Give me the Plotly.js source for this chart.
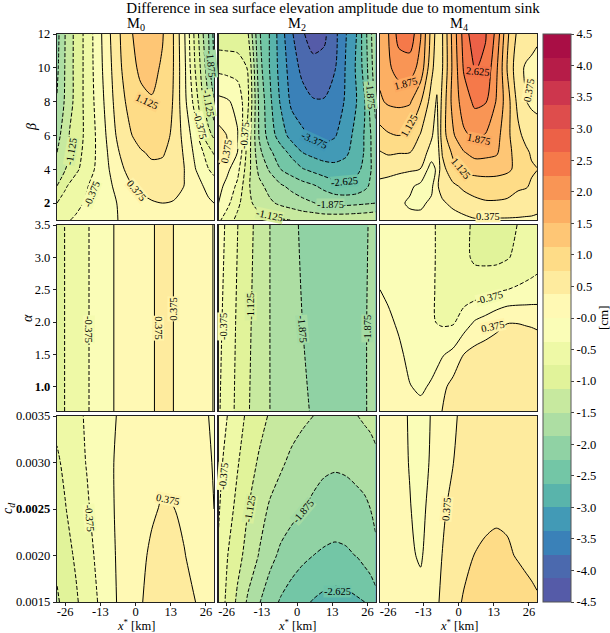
<!DOCTYPE html>
<html><head><meta charset="utf-8">
<script src="https://cdn.plot.ly/plotly-3.0.1.min.js"></script>
<style>html,body{margin:0;padding:0;background:#fff}</style></head>
<body><div id="chart" style="width:610px;height:633px"></div>
<script>
const xCols=[-29,-26,-22,-18,-14,-10,-6,-2,2,6,10,14,18,22,25,27,29];
const xColsM4Beta=[-29,-26,-22,-18,-14,-10,-8,-6,-2,2,6,10,14,18,22,25,27,29];
const betaRows=[1,2,3,4,5,6,8,10,12];
const alphaRows2=[0.625,3.5];
const alphaRows3=[0.625,2,3.5];
const alphaRows7=[0.625,1,1.5,2,2.5,3,3.5];
const cdRows=[0.0015,0.002,0.0025,0.003,0.0035];

const m0Beta=[
[-.47,-.42,-.33,-.24,-.16,-.07,.01,.07,.12,.17,.2,.22,.2,.17,.14,.12,.1],
[-.75,-.6,-.46,-.33,-.22,-.1,.03,.15,.25,.34,.375,.35,.27,.18,.1,.05,0],
[-1.12,-.8,-.55,-.4,-.21,-.07,.12,.33,.46,.55,.58,.52,.37,.13,0,-.1,-.22],
[-1.38,-1.14,-.83,-.55,-.3,-.02,.27,.5,.62,.68,.68,.6,.38,.02,-.22,-.37,-.47],
[-1.5,-1.28,-.93,-.6,-.32,.03,.375,.6,.72,.8,.78,.65,.33,-.08,-.375,-.6,-.8],
[-1.7,-1.2,-1,-.63,-.31,.09,.5,.72,.88,.95,.9,.68,.25,-.18,-.75,-1,-1.2],
[-1.85,-1.45,-1,-.62,-.25,.18,.62,.85,1.03,1.1,1,.73,.12,-.52,-1.125,-1.48,-1.875],
[-1.95,-1.48,-1,-.62,-.2,.25,.68,1,1.2,1.22,1.08,.75,.1,-.75,-1.33,-1.75,-2.25],
[-2,-1.5,-1,-.62,-.18,.3,.72,1.07,1.3,1.32,1.15,.75,.05,-.85,-1.5,-1.875,-2.35]];

const m2Beta=[
[-.3,-.55,-.85,-.95,-1,-1.05,-1.09,-1.13,-1.2,-1.22,-1.25,-1.25,-1.24,-1.22,-1.2,-1.18,-1.15],
[0,-.25,-.65,-1.05,-1.25,-1.44,-1.57,-1.67,-1.77,-1.86,-1.95,-1.98,-1.98,-1.95,-1.92,-1.9,-1.875],
[.12,-.1,-.45,-1.08,-1.4,-1.63,-1.82,-1.97,-2.1,-2.2,-2.35,-2.5,-2.55,-2.5,-2.35,-2.2,-2],
[.3,.1,-.25,-1,-1.6,-1.93,-2.25,-2.43,-2.6,-2.72,-2.82,-2.85,-2.82,-2.7,-2.55,-2.3,-2.05],
[.58,.35,0,-.95,-1.78,-2.18,-2.48,-2.72,-3,-3.12,-3.2,-3.22,-3.08,-2.8,-2.6,-2.3,-2],
[.5,.375,.03,-.9,-1.9,-2.45,-2.8,-3.15,-3.3,-3.42,-3.5,-3.4,-3.2,-2.85,-2.6,-2.3,-1.95],
[.1,.05,-.1,-.72,-1.95,-2.55,-3.05,-3.45,-3.6,-3.72,-3.72,-3.5,-3.35,-3,-2.65,-2.15,-1.8],
[-.47,-.5,-.55,-.78,-2.1,-2.65,-3.15,-3.55,-3.85,-4,-4,-3.78,-3.35,-2.95,-2.47,-2.05,-1.65],
[-1,-1,-1,-1.125,-2.2,-2.65,-3.2,-3.7,-4.08,-4.3,-4.2,-3.85,-3.4,-3,-2.4,-2,-1.55]];

const m4Beta=[
[.1,.1,.1,.1,.12,.15,.17,.2,.24,.28,.34,.33,.33,.33,.33,.33,.33,.32],
[.18,.14,.06,-.05,-.08,.08,.3,.33,.45,.58,.68,.72,.72,.7,.62,.55,.52,.48],
[.28,.25,.17,.07,-.1,-.1,.33,.5,.68,.82,.87,.9,.9,.88,.8,.78,.7,.62],
[.5,.48,.45,.42,.37,-.2,.08,.62,1,1.2,1.28,1.3,1.28,1.2,1.02,.85,.8,.76],
[.73,.8,.77,.76,.55,.25,.12,.78,1.2,1.48,1.63,1.6,1.55,1.25,.95,.82,.7,.65],
[.98,1.08,1.13,1,.72,.42,.2,.95,1.45,1.82,1.93,1.85,1.65,1.22,.85,.62,.52,.47],
[1.45,1.55,1.58,1.55,1.15,.6,.33,.85,1.65,2.05,2.33,2.28,1.85,1.3,.63,.38,.33,.32],
[1.6,1.8,2.05,2.05,1.75,.85,.55,.72,1.6,2.3,2.65,2.55,1.95,1.1,.48,.33,.3,.3],
[1.65,1.85,2.4,2.5,1.9,1,.6,.72,1.65,2.4,2.9,2.65,2.15,1.2,.65,.58,.5,.42]];

const m0Alpha=[
[-.9,-.74,-.54,-.41,-.24,-.08,.08,.21,.3,.36,.42,.375,.27,.15,.07,.04,-.01],
[-.9,-.74,-.54,-.41,-.24,-.08,.08,.21,.3,.36,.42,.375,.27,.15,.07,.04,-.01]];

const m2Alpha=[
[-.33,-.57,-.83,-1.1,-1.33,-1.5,-1.62,-1.73,-1.83,-1.9,-1.97,-2,-2,-1.95,-1.89,-1.85,-1.8],
[-.28,-.5,-.8,-1.06,-1.3,-1.5,-1.63,-1.77,-1.875,-1.95,-2,-2.03,-2.01,-1.95,-1.89,-1.85,-1.8],
[-.2,-.43,-.74,-1,-1.27,-1.5,-1.65,-1.8,-1.92,-1.98,-2.03,-2.05,-2.03,-1.97,-1.9,-1.86,-1.8]];

const m4Alpha=[
[.18,.16,.12,.08,.07,.16,.38,.5,.58,.62,.65,.68,.7,.7,.7,.7,.7],
[.2,.17,.1,.01,-.04,.03,.28,.5,.55,.6,.62,.65,.67,.68,.68,.67,.66],
[.17,.13,.05,-.07,-.13,-.1,-.03,.1,.38,.5,.57,.62,.65,.65,.63,.6,.58],
[.11,.05,-.04,-.13,-.23,-.34,-.43,-.42,-.2,.03,.13,.25,.36,.36,.34,.33,.31],
[0,-.05,-.11,-.17,-.26,-.35,-.43,-.5,-.58,-.58,-.5,-.42,-.375,-.33,-.3,-.28,-.26],
[-.08,-.12,-.16,-.21,-.28,-.35,-.42,-.52,-.68,-.8,-.84,-.85,-.78,-.66,-.58,-.54,-.5],
[-.1,-.13,-.17,-.22,-.29,-.35,-.42,-.52,-.68,-.8,-.85,-.87,-.85,-.74,-.68,-.65,-.62]];

const m0Cd=[
[-1.18,-1,-.8,-.57,-.375,-.15,.05,.22,.36,.45,.5,.5,.46,.38,.3,.25,.2],
[-1.03,-.88,-.7,-.5,-.31,-.11,.06,.2,.32,.42,.47,.45,.39,.27,.18,.13,.08],
[-.93,-.77,-.58,-.42,-.25,-.08,.07,.17,.26,.34,.4,.38,.31,.2,.12,.06,0],
[-.8,-.68,-.5,-.36,-.2,-.06,.06,.15,.22,.26,.31,.32,.28,.18,.1,.03,-.02],
[-.66,-.6,-.47,-.33,-.22,-.08,.03,.11,.17,.21,.25,.27,.25,.18,.08,0,-.08]];

const m2Cd=[
[-.55,-.8,-1.2,-1.57,-1.85,-2.1,-2.29,-2.43,-2.55,-2.65,-2.73,-2.78,-2.75,-2.68,-2.625,-2.55,-2.4],
[-.42,-.72,-1,-1.27,-1.52,-1.76,-1.95,-2.07,-2.17,-2.25,-2.3,-2.32,-2.3,-2.24,-2.13,-2.05,-1.97],
[-.34,-.58,-.85,-1.125,-1.35,-1.55,-1.67,-1.77,-1.86,-1.95,-2.03,-2.08,-2.06,-2,-1.95,-1.88,-1.78],
[-.28,-.47,-.72,-.97,-1.17,-1.32,-1.45,-1.57,-1.67,-1.74,-1.8,-1.82,-1.8,-1.75,-1.7,-1.65,-1.6],
[-.18,-.36,-.6,-.83,-1,-1.16,-1.27,-1.36,-1.43,-1.5,-1.53,-1.55,-1.54,-1.51,-1.45,-1.42,-1.35]];

const m4Cd=[
[.3,.28,.22,.15,.12,.27,.42,.58,.8,.9,1,1.03,1,.95,.88,.85,.8],
[.25,.22,.15,.05,-.04,.17,.38,.52,.62,.76,.82,.85,.8,.72,.67,.63,.6],
[.2,.17,.1,.01,-.07,.08,.32,.47,.55,.6,.65,.68,.68,.65,.6,.57,.54],
[.16,.13,.07,-.01,-.1,.03,.22,.37,.47,.53,.57,.6,.6,.58,.55,.52,.5],
[.14,.12,.07,-.02,-.08,.01,.2,.34,.43,.5,.53,.55,.55,.53,.5,.47,.45]];

const xTickVals=[-26,-13,0,13,26];
const xTickText=['-26','-13','0','13','26'];
const betaTickVals=[2,4,6,8,10,12];
const betaTickText=['<b>2</b>','4','6','8','10','12'];
const alphaTickVals=[1,1.5,2,2.5,3,3.5];
const alphaTickText=['<b>1.0</b>','1.5','2.0','2.5','3.0','3.5'];
const cdTickVals=[.0015,.002,.0025,.003,.0035];
const cdTickText=['0.0015','0.0020','<b>0.0025</b>','0.0030','0.0035'];
const barTickVals=[-4.5,-4,-3.5,-3,-2.5,-2,-1.5,-1,-.5,0,.5,1,1.5,2,2.5,3,3.5,4,4.5];
const barTickText=['-4.5','-4.0','-3.5','-3.0','-2.5','-2.0','-1.5','-1.0','-0.5','-0.0','0.5','1.0','1.5','2.0','2.5','3.0','3.5','4.0','4.5'];

// contour labels for each panel: text, x, y, angle
const labels=[
 [['-1.125',-23.7,5.04,-80],['-0.375',-16.3,2.53,-68],['0.375',.4,2.77,50],['1.125',4.1,8,25],['-0.375',23.9,6.6,75],['-1.125',27,7.9,80],['-1.875',27.9,10.26,85]],
 [['0.375',-26,5.04,-80],['-0.375',-19.4,6,-85],['-3.375',6.6,5.73,25],['-2.625',17.7,3.26,-5],['-1.875',12.2,1.92,0],['-1.125',-10,1.29,12],['-1.875',27,8.4,85]],
 [['1.875',-19.4,9.08,-15],['2.625',7.1,9.77,5],['1.125',-18.2,6.6,-60],['1.875',7.7,5.77,12],['1.125',.9,4.05,50],['0.375',26.2,8.7,-80],['0.375',10.8,1.2,0]],
 [['-0.375',-17.1,1.89,90],['0.375',8.2,1.91,90],['0.375',14,2.21,-90]],
 [['-0.375',-27.2,1.93,-90],['-1.125',-17,2.25,-90],['-1.875',2.1,1.89,85],['-1.875',26,1.9,-90]],
 [['-0.375',11.6,2.38,-15],['0.375',12.7,1.93,-12]],
 [['-0.375',-16.9,.0024,85],['0.375',11.9,.0026,12]],
 [['-0.375',-27.2,.00285,-85],['-1.125',-17.6,.0025,-80],['-1.875',2.3,.00247,-50],['-2.625',14.9,.00161,0]],
 [['0.375',-4.6,.0025,-85]]
];

const panels=[
 {x:xCols,y:betaRows,z:m0Beta,c:0,r:0,title:'M<sub>0</sub>'},
 {x:xCols,y:betaRows,z:m2Beta,c:1,r:0,title:'M<sub>2</sub>'},
 {x:xColsM4Beta,y:betaRows,z:m4Beta,c:2,r:0,title:'M<sub>4</sub>'},
 {x:xCols,y:alphaRows2,z:m0Alpha,c:0,r:1},
 {x:xCols,y:alphaRows3,z:m2Alpha,c:1,r:1},
 {x:xCols,y:alphaRows7,z:m4Alpha,c:2,r:1},
 {x:xCols,y:cdRows,z:m0Cd,c:0,r:2},
 {x:xCols,y:cdRows,z:m2Cd,c:1,r:2},
 {x:xCols,y:cdRows,z:m4Cd,c:2,r:2}
];

const W=610,H=633;
const colPx=[[57,214],[218.5,375.5],[380,537]];
const rowPx=[[34,220],[225,411],[416,602]];
const yRanges=[[1,12],[.625,3.5],[.0015,.0035]];
const yTicks=[[betaTickVals,betaTickText],[alphaTickVals,alphaTickText],[cdTickVals,cdTickText]];
const yTitles=['<i>β</i>','<i>α</i>','<i>c<sub>d</sub></i>'];
const yTitleX=[31,27,8];

const serif='"Liberation Serif","Times New Roman",serif';
const step=.375,zLo=-4.5,zHi=4.5;

// Spectral_r anchors
const anchors=['#5e4fa2','#3288bd','#66c2a5','#abdda4','#e6f598','#ffffbf','#fee08b','#fdae61','#f46d43','#d53e4f','#9e0142'];
const h2r=h=>[1,3,5].map(i=>parseInt(h.substr(i,2),16));
function bandRgb(k){
  const t=(k+.5)/24*10,i=Math.min(9,Math.floor(t)),f=t-i;
  const a=h2r(anchors[i]),b=h2r(anchors[i+1]);
  return a.map((v,j)=>Math.round(v+(b[j]-v)*f));
}
const bandColor=k=>'rgb('+bandRgb(k).join(',')+')';
const scale=[[0,bandColor(0)]];
for(let k=0;k<24;k++)scale.push([(k+1)/25,bandColor(k)]);
scale.push([1,bandColor(23)]);
// label background: the mean of the two bands either side of the labelled level
function labelBg(v){
  const k=Math.round((v-zLo)/step);
  const a=bandRgb(k-1),b=bandRgb(k);
  return 'rgb('+a.map((c,j)=>Math.round((c+b[j])/2)).join(',')+')';
}

const data=[],annotations=[];
const layout={
 width:W,height:H,margin:{l:0,r:0,t:0,b:0},paper_bgcolor:'#fff',plot_bgcolor:'#fff',showlegend:false,
 font:{family:serif,size:12,color:'#000'},
 title:{text:'Difference in sea surface elevation amplitude due to momentum sink',
  font:{family:serif,size:15,color:'#000'},x:333/W,xref:'paper',xanchor:'center',y:1-8/H,yref:'paper',yanchor:'middle'},
 annotations
};

panels.forEach((p,i)=>{
 const id=i===0?'':String(i+1),xa='x'+id,ya='y'+id;
 const [x0,x1]=colPx[p.c],[y0,y1]=rowPx[p.r];
 const last=p.r===2,first=p.c===0;
 layout['xaxis'+id]={domain:[x0/W,x1/W],range:[-29,29],anchor:ya,tickmode:'array',
  tickvals:last?xTickVals:[],ticktext:last?xTickText:[],ticks:last?'outside':'',ticklen:3,tickwidth:1,tickcolor:'#222',ticklabelstandoff:last?-5:0,
  tickfont:{family:serif,size:12.5},showgrid:false,zeroline:false,showline:true,mirror:true,linecolor:'#222',linewidth:1.2,automargin:false};
 layout['yaxis'+id]={domain:[1-y1/H,1-y0/H],range:yRanges[p.r],anchor:xa,tickmode:'array',
  tickvals:first?yTicks[p.r][0]:[],ticktext:first?yTicks[p.r][1]:[],ticks:first?'outside':'',ticklen:3,tickwidth:1,tickcolor:'#222',
  tickfont:{family:serif,size:12.5},showgrid:false,zeroline:false,showline:true,mirror:true,linecolor:'#222',linewidth:1.2,automargin:false};
 data.push({type:'contour',x:p.x,y:p.y,z:p.z,xaxis:xa,yaxis:ya,zmin:zLo,zmax:zHi,autocontour:false,
  contours:{coloring:'fill',start:zLo,end:zHi,size:step,showlines:false},line:{width:0,smoothing:.8},colorscale:scale,
  showscale:i===0,hoverinfo:'skip',
  colorbar:{x:543/W,xanchor:'left',xpad:0,y:1-34/H,yanchor:'top',ypad:0,len:568/H,lenmode:'fraction',thickness:28,thicknessmode:'pixels',
   outlinewidth:1,outlinecolor:'#555',tickmode:'array',tickvals:barTickVals,ticktext:barTickText,ticks:'outside',ticklen:3,tickwidth:1,
   tickfont:{family:serif,size:12.5,color:'#000'}}});
 data.push({type:'contour',x:p.x,y:p.y,z:p.z,xaxis:xa,yaxis:ya,autocontour:false,showscale:false,hoverinfo:'skip',
  contours:{coloring:'none',start:-4.125,end:-.375,size:step},line:{color:'#000',width:1,dash:'4px,2px',smoothing:.8}});
 data.push({type:'contour',x:p.x,y:p.y,z:p.z,xaxis:xa,yaxis:ya,autocontour:false,showscale:false,hoverinfo:'skip',
  contours:{coloring:'none',start:0,end:4.125,size:step},line:{color:'#000',width:1,smoothing:.8}});
 labels[i].forEach(l=>{
  annotations.push({xref:xa,yref:ya,x:l[1],y:l[2],text:l[0],showarrow:false,textangle:l[3],
   font:{family:serif,size:10.5,color:'#000'},bgcolor:labelBg(parseFloat(l[0])),borderpad:0});
 });
 if(p.title)annotations.push({xref:'paper',yref:'paper',x:(x0+x1)/2/W,y:1-24/H,text:p.title,showarrow:false,xanchor:'center',yanchor:'middle',
  font:{family:serif,size:14.5}});
 if(last)annotations.push({xref:'paper',yref:'paper',x:(x0+x1)/2/W,y:1-625/H,text:'<i>x</i><sup>*</sup> [km]',showarrow:false,xanchor:'center',yanchor:'middle',
  font:{family:serif,size:12.5}});
});
yTitles.forEach((t,r)=>{
 annotations.push({xref:'paper',yref:'paper',x:yTitleX[r]/W,y:1-(rowPx[r][0]+rowPx[r][1])/2/H,text:t,showarrow:false,textangle:-90,
  xanchor:'center',yanchor:'middle',font:{family:serif,size:14}});
});
annotations.push({xref:'paper',yref:'paper',x:603/W,y:1-318/H,text:'[cm]',showarrow:false,textangle:-90,xanchor:'center',yanchor:'middle',font:{family:serif,size:13}});

Plotly.newPlot('chart',data,layout,{displayModeBar:false,staticPlot:true});
</script></body></html>
